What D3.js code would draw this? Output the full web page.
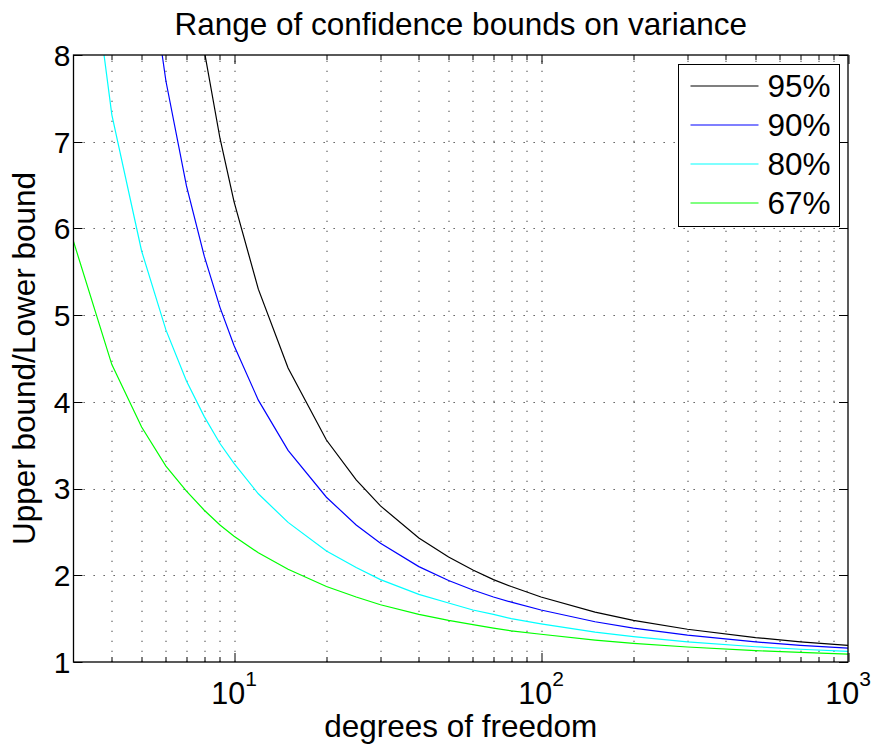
<!DOCTYPE html>
<html lang="en">

<head>
    <meta charset="UTF-8">
    <title>Range of confidence bounds on variance</title>
    <script src="https://d3js.org/d3.v7.min.js"></script>
    <style>
        body { margin: 0; background: #fff; }
        text { font-family: "Liberation Sans", Arial, Helvetica, sans-serif; fill: #000; }
    </style>
</head>

<body>
    <svg width="875" height="749" id="grafico"></svg>
    <script>

        // degrees of freedom (x) and Upper/Lower bound ratio per confidence level
        var dof = [3, 4, 5, 6, 7, 8, 9, 10, 12, 15, 20, 25, 30, 40, 50, 60, 70, 80, 100, 150, 200, 300, 500, 700, 1000];
        var ci95 = [43.3, 23.0, 15.44, 11.68, 9.48, 8.05, 7.04, 6.31, 5.30, 4.39, 3.56, 3.10, 2.80, 2.43, 2.21, 2.06, 1.95, 1.87, 1.75, 1.575, 1.481, 1.378, 1.282, 1.233, 1.192];
        var ci90 = [22.2, 13.35, 9.66, 7.70, 6.49, 5.68, 5.09, 4.65, 4.02, 3.44, 2.90, 2.58, 2.37, 2.10, 1.94, 1.83, 1.75, 1.69, 1.60, 1.464, 1.391, 1.309, 1.232, 1.192, 1.159];
        var ci80 = [10.7, 7.31, 5.74, 4.83, 4.24, 3.83, 3.52, 3.29, 2.94, 2.61, 2.28, 2.09, 1.95, 1.78, 1.68, 1.60, 1.55, 1.50, 1.44, 1.345, 1.293, 1.233, 1.176, 1.147, 1.122];
        var ci67 = [5.85, 4.43, 3.71, 3.26, 2.97, 2.75, 2.58, 2.45, 2.26, 2.07, 1.87, 1.75, 1.66, 1.55, 1.48, 1.43, 1.39, 1.36, 1.32, 1.253, 1.215, 1.173, 1.131, 1.110, 1.091];

        var seriesNames = ["95%", "90%", "80%", "67%"];
        var seriesColors = ["#000000", "#0000ff", "#00ffff", "#00ff00"];
        var yTicks = [1, 2, 3, 4, 5, 6, 7, 8];
        var xMajor = [10, 100, 1000];
        var xMinor = [4, 5, 6, 7, 8, 9, 20, 30, 40, 50, 60, 70, 80, 90, 200, 300, 400, 500, 600, 700, 800, 900];

        var allSeries = [ci95, ci90, ci80, ci67];

        var svg = d3.select("svg"),
            margin = { top: 55, right: 27, bottom: 87, left: 73.5 },
            width = +svg.attr("width") - margin.left - margin.right,
            height = +svg.attr("height") - margin.top - margin.bottom;

        var x = d3.scaleLog().domain([3, 1000]).range([0, width]),
            y = d3.scaleLinear().domain([1, 8]).range([height, 0]);

        var g = svg.append("g")
            .attr("transform", "translate(" + margin.left + "," + margin.top + ")");

        // Clip the curves to the axes box
        svg.append("defs").append("clipPath")
            .attr("id", "clip")
            .append("rect")
            .attr("width", width)
            .attr("height", height);

        // Grid (dotted)
        var grid = g.append("g").attr("class", "grid")
            .attr("stroke", "#444")
            .attr("stroke-width", 1)
            .attr("stroke-dasharray", "1.3,8.7");

        grid.selectAll(".hgrid")
            .data(yTicks.slice(1, -1))
            .enter().append("line")
            .attr("x1", 0).attr("x2", width)
            .attr("y1", function (d) { return Math.round(y(d)) + 0.5; })
            .attr("y2", function (d) { return Math.round(y(d)) + 0.5; });

        grid.selectAll(".vgrid")
            .data(xMinor.concat(xMajor.slice(0, -1)))
            .enter().append("line")
            .attr("y1", height).attr("y2", 0)
            .attr("x1", function (d) { return Math.round(x(d)) + 0.5; })
            .attr("x2", function (d) { return Math.round(x(d)) + 0.5; });

        // Curves
        var line = d3.line()
            .x(function (d, i) { return x(dof[i]); })
            .y(function (d) { return y(d); });

        g.append("g")
            .attr("clip-path", "url(#clip)")
            .selectAll("path")
            .data(allSeries)
            .enter().append("path")
            .attr("fill", "none")
            .attr("stroke", function (d, i) { return seriesColors[i]; })
            .attr("stroke-width", 1.2)
            .attr("d", line);

        // Axes box with inward ticks on all sides
        var majorLen = 9, minorLen = 5;

        function tickLines(sel, cls, data, pos, len, vertical, atStart) {
            sel.selectAll("." + cls)
                .data(data)
                .enter().append("line")
                .attr("stroke", "#000")
                .attr("stroke-width", 1)
                .attr("x1", function (d) { return vertical ? Math.round(pos(d)) + 0.5 : (atStart ? 0 : width); })
                .attr("x2", function (d) { return vertical ? Math.round(pos(d)) + 0.5 : (atStart ? len : width - len); })
                .attr("y1", function (d) { return vertical ? (atStart ? 0 : height) : Math.round(pos(d)) + 0.5; })
                .attr("y2", function (d) { return vertical ? (atStart ? len : height - len) : Math.round(pos(d)) + 0.5; });
        }

        var ticks = g.append("g").attr("class", "ticks");
        tickLines(ticks, "xb", xMajor, x, majorLen, true, false);
        tickLines(ticks, "xbm", xMinor, x, minorLen, true, false);
        tickLines(ticks, "xt", xMajor, x, majorLen, true, true);
        tickLines(ticks, "xtm", xMinor, x, minorLen, true, true);
        tickLines(ticks, "yl", yTicks, y, majorLen, false, true);
        tickLines(ticks, "yr", yTicks, y, majorLen, false, false);

        g.append("rect")
            .attr("x", 0).attr("y", 0)
            .attr("width", width).attr("height", height)
            .attr("fill", "none")
            .attr("stroke", "#000")
            .attr("stroke-width", 1.3);

        // Y tick labels
        g.selectAll(".ylab")
            .data(yTicks)
            .enter().append("text")
            .attr("x", -3)
            .attr("y", function (d) { return y(d); })
            .attr("dy", "0.36em")
            .attr("text-anchor", "end")
            .attr("font-size", 30)
            .text(function (d) { return d; });

        // X tick labels 10^n
        var xl = g.selectAll(".xlab")
            .data(xMajor)
            .enter().append("text")
            .attr("x", function (d) { return x(d); })
            .attr("y", height + 42)
            .attr("text-anchor", "middle")
            .attr("font-size", 30.5);
        xl.append("tspan").text("10");
        xl.append("tspan")
            .attr("dy", -18)
            .attr("font-size", 21)
            .text(function (d) { return Math.round(Math.log10(d)); });

        // Title and axis labels
        svg.append("text")
            .attr("x", margin.left + width / 2)
            .attr("y", 35)
            .attr("text-anchor", "middle")
            .attr("font-size", 31.5)
            .text("Range of confidence bounds on variance");

        svg.append("text")
            .attr("x", margin.left + width / 2)
            .attr("y", 737)
            .attr("text-anchor", "middle")
            .attr("font-size", 31.5)
            .text("degrees of freedom");

        svg.append("text")
            .attr("transform", "translate(35," + (margin.top + height / 2) + ") rotate(-90)")
            .attr("text-anchor", "middle")
            .attr("font-size", 31.5)
            .text("Upper bound/Lower bound");

        // Legend
        var legend = svg.append("g")
            .attr("transform", "translate(678.5,64.5)");

        legend.append("rect")
            .attr("width", 161)
            .attr("height", 162)
            .attr("fill", "#fff")
            .attr("stroke", "#000")
            .attr("stroke-width", 1);

        var rows = legend.selectAll(".row")
            .data(seriesNames)
            .enter().append("g")
            .attr("transform", function (d, i) { return "translate(0," + (21.5 + i * 39) + ")"; });

        rows.append("line")
            .attr("x1", 12).attr("x2", 80)
            .attr("stroke", function (d, i) { return seriesColors[i]; })
            .attr("stroke-width", 1.2);

        rows.append("text")
            .attr("x", 89)
            .attr("y", 11)
            .attr("font-size", 31.5)
            .text(function (d) { return d; });

    </script>
</body>

</html>
